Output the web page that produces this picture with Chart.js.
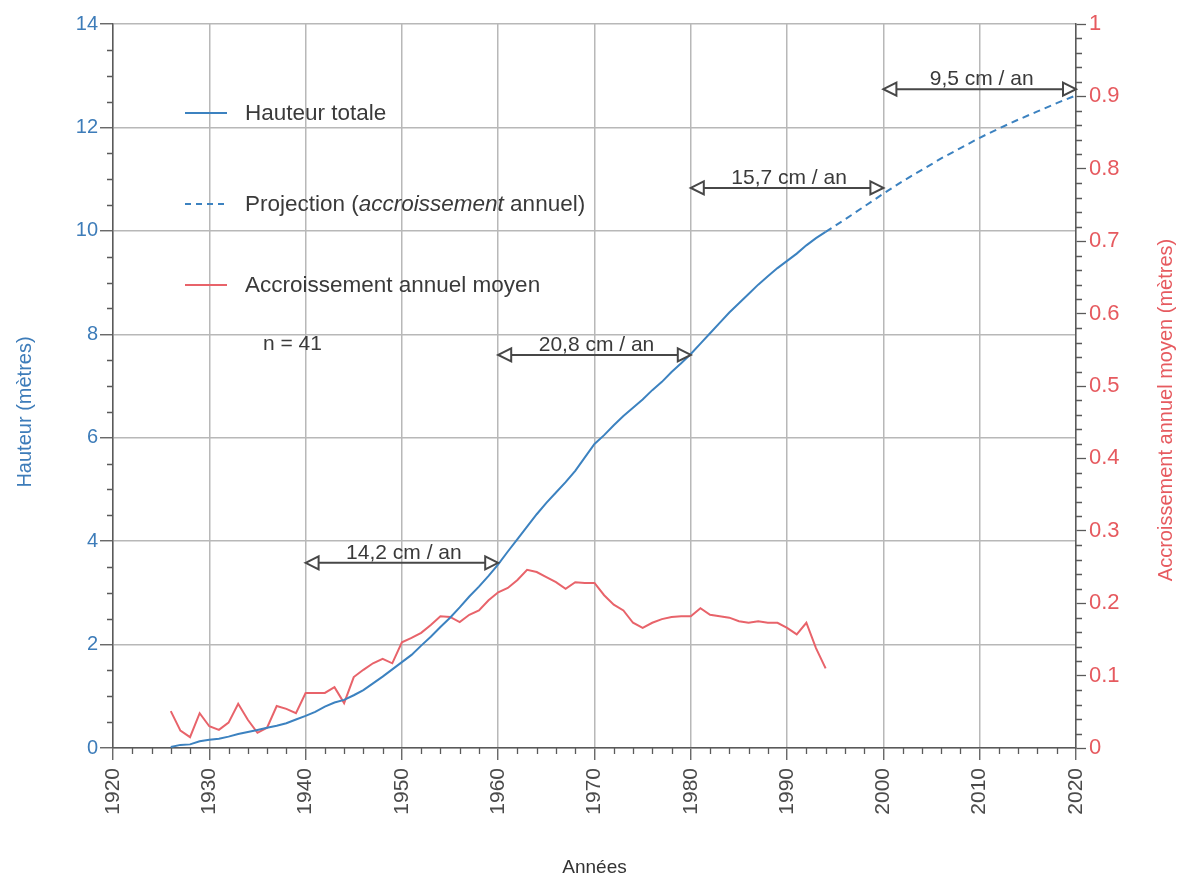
<!DOCTYPE html>
<html><head><meta charset="utf-8">
<script src="https://cdn.jsdelivr.net/npm/chart.js@4/dist/chart.umd.min.js"></script>
<style>html,body{margin:0;padding:0;background:#fff}canvas{display:block}</style>
</head><body>
<canvas id="c" width="1181" height="879"></canvas>
<script>
// ---- data ----
const heightYears = [1926,1927,1928,1929,1930,1931,1932,1933,1934,1935,1936,1937,1938,1939,1940,1941,1942,1943,1944,1945,1946,1947,1948,1949,1950,1951,1952,1953,1954,1955,1956,1957,1958,1959,1960,1961,1962,1963,1964,1965,1966,1967,1968,1969,1970,1971,1972,1973,1974,1975,1976,1977,1978,1979,1980,1981,1982,1983,1984,1985,1986,1987,1988,1989,1990,1991,1992,1993,1994];
const heightValues = [0.02,0.06,0.07,0.13,0.16,0.18,0.22,0.27,0.31,0.35,0.39,0.43,0.48,0.55,0.62,0.70,0.80,0.88,0.93,1.02,1.12,1.25,1.38,1.52,1.66,1.80,1.98,2.15,2.34,2.52,2.72,2.93,3.12,3.33,3.55,3.80,4.04,4.28,4.52,4.74,4.94,5.14,5.36,5.62,5.88,6.05,6.24,6.42,6.58,6.74,6.92,7.08,7.27,7.44,7.62,7.82,8.02,8.22,8.42,8.60,8.78,8.96,9.12,9.28,9.42,9.56,9.72,9.86,9.98];
const projectionYears = [1994,1996,1998,2000,2002,2004,2006,2008,2010,2012,2014,2016,2018,2020];
const projectionValues = [9.98,10.22,10.47,10.72,10.96,11.18,11.40,11.60,11.80,11.98,12.15,12.31,12.47,12.62];
const growthYears = [1926,1927,1928,1929,1930,1931,1932,1933,1934,1935,1936,1937,1938,1939,1940,1941,1942,1943,1944,1945,1946,1947,1948,1949,1950,1951,1952,1953,1954,1955,1956,1957,1958,1959,1960,1961,1962,1963,1964,1965,1966,1967,1968,1969,1970,1971,1972,1973,1974,1975,1976,1977,1978,1979,1980,1981,1982,1983,1984,1985,1986,1987,1988,1989,1990,1991,1992,1993,1994];
const growthValues = [0.051,0.024,0.015,0.048,0.030,0.025,0.035,0.061,0.039,0.021,0.028,0.058,0.054,0.048,0.076,0.076,0.076,0.084,0.062,0.098,0.108,0.117,0.123,0.117,0.146,0.152,0.159,0.170,0.182,0.181,0.174,0.184,0.190,0.204,0.215,0.221,0.232,0.246,0.243,0.236,0.229,0.220,0.229,0.228,0.228,0.211,0.198,0.190,0.173,0.166,0.173,0.178,0.181,0.182,0.182,0.193,0.184,0.182,0.180,0.175,0.173,0.175,0.173,0.173,0.166,0.157,0.173,0.138,0.110];

const xTickValues = [1920,1930,1940,1950,1960,1970,1980,1990,2000,2010,2020];
const leftTickValues = [0,2,4,6,8,10,12,14];
const rightTickValues = [0,0.1,0.2,0.3,0.4,0.5,0.6,0.7,0.8,0.9,1];
const rightTickLabels = ['0','0.1','0.2','0.3','0.4','0.5','0.6','0.7','0.8','0.9','1'];

const seriesNames = ['Hauteur totale','Projection (accroissement annuel)','Accroissement annuel moyen'];
const sampleNote = 'n = 41';
const rateLabels = ['14,2 cm / an','20,8 cm / an','15,7 cm / an','9,5 cm / an'];
const rateFrom = [1940,1960,1980,2000];
const rateTo = [1960,1980,2000,2020];
const rateHeight = [3.58,7.60,10.83,12.74];

const xTitle = 'Années';
const leftTitle = 'Hauteur (mètres)';
const rightTitle = 'Accroissement annuel moyen (mètres)';

// ---- styles ----
const BLUE = '#3c82c0', RED = '#e8636a', LBLUE = '#3d7cb9', LRED = '#e65a5f';
const GRID = '#b8b8b8', AXIS = '#5a5a5a', TXT = '#3a3a3a';
const FONT = '"Liberation Sans", Arial, Helvetica, sans-serif';

const pts = (xs, ys) => xs.map((x, i) => ({x, y: ys[i]}));

const decor = {
  id: 'decor',
  afterDraw(chart) {
    const ctx = chart.ctx, xs = chart.scales.x, ys = chart.scales.y, y1 = chart.scales.y1;
    const ca = chart.chartArea;
    ctx.save();
    // minor ticks
    ctx.strokeStyle = AXIS; ctx.lineWidth = 1.3;
    ctx.beginPath();
    for (let v = 1920; v <= 2020; v += 2) {
      if (v % 10 === 0) continue;
      const p = Math.round(xs.getPixelForValue(v)) + 0.5;
      ctx.moveTo(p, ca.bottom); ctx.lineTo(p, ca.bottom + 6);
    }
    for (let k = 0; k <= 28; k++) {
      if (k % 4 === 0) continue;
      const p = Math.round(ys.getPixelForValue(k * 0.5)) + 0.5;
      ctx.moveTo(ca.left - 6, p); ctx.lineTo(ca.left, p);
    }
    for (let k = 0; k <= 50; k++) {
      if (k % 5 === 0) continue;
      const p = Math.round(y1.getPixelForValue(k * 0.02)) + 0.5;
      ctx.moveTo(ca.right, p); ctx.lineTo(ca.right + 6, p);
    }
    ctx.stroke();

    // legend
    const lx0 = ca.left + 72, lx1 = ca.left + 114, tx = ca.left + 132;
    const rows = [113, 204, 285];
    ctx.lineWidth = 2;
    ctx.strokeStyle = BLUE; ctx.setLineDash([]);
    ctx.beginPath(); ctx.moveTo(lx0, rows[0]); ctx.lineTo(lx1, rows[0]); ctx.stroke();
    ctx.setLineDash([6, 5]);
    ctx.beginPath(); ctx.moveTo(lx0, rows[1]); ctx.lineTo(lx1, rows[1]); ctx.stroke();
    ctx.setLineDash([]);
    ctx.strokeStyle = RED;
    ctx.beginPath(); ctx.moveTo(lx0, rows[2]); ctx.lineTo(lx1, rows[2]); ctx.stroke();
    ctx.fillStyle = TXT; ctx.textBaseline = 'middle'; ctx.textAlign = 'left';
    const nf = '22.5px ' + FONT, itf = 'italic 22.5px ' + FONT;
    ctx.font = nf;
    ctx.fillText(seriesNames[0], tx, rows[0] + 1);
    ctx.fillText(seriesNames[2], tx, rows[2] + 1);
    // projection label with italic word
    const s = seriesNames[1];
    const a = s.indexOf('(') + 1, b = s.indexOf(' ', a);
    let cx = tx;
    ctx.font = nf; ctx.fillText(s.slice(0, a), cx, rows[1] + 1); cx += ctx.measureText(s.slice(0, a)).width;
    ctx.font = itf; ctx.fillText(s.slice(a, b), cx, rows[1] + 1); cx += ctx.measureText(s.slice(a, b)).width;
    ctx.font = nf; ctx.fillText(s.slice(b), cx, rows[1] + 1);
    ctx.font = '21px ' + FONT; ctx.textBaseline = 'alphabetic';
    ctx.fillText(sampleNote, ca.left + 150, 350);

    // rate arrows
    ctx.strokeStyle = '#474747'; ctx.fillStyle = '#fff'; ctx.lineWidth = 2;
    const hl = 13, hw = 6.5;
    for (let i = 0; i < rateLabels.length; i++) {
      const x1 = xs.getPixelForValue(rateFrom[i]), x2 = xs.getPixelForValue(rateTo[i]);
      const y = ys.getPixelForValue(rateHeight[i]);
      ctx.beginPath(); ctx.moveTo(x1 + hl, y); ctx.lineTo(x2 - hl, y); ctx.stroke();
      ctx.beginPath(); ctx.moveTo(x1, y); ctx.lineTo(x1 + hl, y - hw); ctx.lineTo(x1 + hl, y + hw); ctx.closePath();
      ctx.fill(); ctx.stroke();
      ctx.beginPath(); ctx.moveTo(x2, y); ctx.lineTo(x2 - hl, y - hw); ctx.lineTo(x2 - hl, y + hw); ctx.closePath();
      ctx.fill(); ctx.stroke();
      ctx.save();
      ctx.fillStyle = TXT; ctx.font = '21px ' + FONT; ctx.textAlign = 'center'; ctx.textBaseline = 'alphabetic';
      ctx.fillText(rateLabels[i], (x1 + x2) / 2 + 2, y - 4);
      ctx.restore();
    }

    // vertical axis titles (both read bottom-to-top)
    ctx.textAlign = 'center'; ctx.textBaseline = 'middle';
    ctx.font = '20px ' + FONT;
    ctx.fillStyle = LBLUE;
    ctx.save(); ctx.translate(25, 412); ctx.rotate(-Math.PI / 2); ctx.fillText(leftTitle, 0, 0); ctx.restore();
    ctx.fillStyle = LRED;
    ctx.save(); ctx.translate(1166, 410); ctx.rotate(-Math.PI / 2); ctx.fillText(rightTitle, 0, 0); ctx.restore();
    ctx.restore();
  }
};

new Chart(document.getElementById('c'), {
  type: 'line',
  data: {
    datasets: [
      { label: seriesNames[0], data: pts(heightYears, heightValues), yAxisID: 'y',
        borderColor: BLUE, borderWidth: 2, pointRadius: 0, tension: 0, fill: false },
      { label: seriesNames[1], data: pts(projectionYears, projectionValues), yAxisID: 'y',
        borderColor: BLUE, borderWidth: 2, borderDash: [7, 5], pointRadius: 0, tension: 0, fill: false },
      { label: seriesNames[2], data: pts(growthYears, growthValues), yAxisID: 'y1',
        borderColor: RED, borderWidth: 2, pointRadius: 0, tension: 0, fill: false }
    ]
  },
  options: {
    responsive: false,
    animation: false,
    layout: { padding: { top: 24, left: 0, right: 0, bottom: 0 } },
    plugins: { legend: { display: false }, tooltip: { enabled: false }, title: { display: false } },
    scales: {
      x: {
        type: 'linear', min: 1920, max: 2020,
        afterBuildTicks: s => { s.ticks = xTickValues.map(v => ({ value: v })); },
        afterFit: s => { s.height = 131; },
        ticks: { autoSkip: false, minRotation: 90, maxRotation: 90, padding: 8, color: '#4a4a4a',
                 font: { family: FONT, size: 21 }, callback: v => String(v) },
        grid: { color: GRID, lineWidth: 1.5, tickLength: 12, tickColor: AXIS, tickWidth: 1.3 },
        border: { color: AXIS, width: 1.5 },
        title: { display: true, text: xTitle, color: '#333', font: { family: FONT, size: 19 }, padding: { top: 0, bottom: 0 } }
      },
      y: {
        position: 'left', min: 0, max: 14,
        afterBuildTicks: s => { s.ticks = leftTickValues.map(v => ({ value: v })); },
        afterFit: s => { s.width = 113; },
        ticks: { padding: 2, color: LBLUE, font: { family: FONT, size: 20 }, callback: v => String(v) },
        grid: { color: GRID, lineWidth: 1.5, tickLength: 13, tickColor: AXIS, tickWidth: 1.3 },
        border: { color: AXIS, width: 1.5 }
      },
      y1: {
        position: 'right', min: 0, max: 1,
        afterBuildTicks: s => { s.ticks = rightTickValues.map(v => ({ value: v })); },
        afterFit: s => { s.width = 105; },
        ticks: { padding: 3, color: LRED, font: { family: FONT, size: 22 },
                 callback: (v, i) => rightTickLabels[i] },
        grid: { drawOnChartArea: false, tickLength: 10, tickColor: AXIS, tickWidth: 1.3 },
        border: { color: AXIS, width: 1.5 }
      }
    }
  },
  plugins: [decor]
});
</script>
</body></html>
